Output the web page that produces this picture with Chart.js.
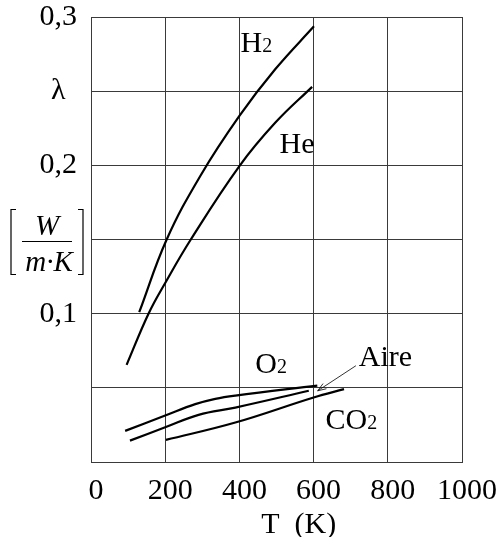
<!DOCTYPE html>
<html>
<head>
<meta charset="utf-8">
<script src="https://cdn.jsdelivr.net/npm/chart.js@4"></script>
<style>
  html, body { margin: 0; padding: 0; background: #fff; }
</style>
</head>
<body>
<canvas id="lambdaChart" width="503" height="537"></canvas>
<script>
  // thermal conductivity of gases
  var h2T = [130, 204, 295, 400, 497, 601];
  var h2L = [0.101, 0.150, 0.193, 0.2333, 0.2649, 0.2937];

  var heT = [96, 155, 200, 269, 400, 497, 596];
  var heL = [0.0655, 0.100, 0.1207, 0.150, 0.1995, 0.2288, 0.2529];

  var o2T = [92, 200, 281, 335, 389, 610];
  var o2L = [0.021, 0.0313, 0.039, 0.0426, 0.0448, 0.0515];

  var aireT = [105, 200, 290, 389, 587];
  var aireL = [0.0144, 0.0234, 0.0318, 0.0367, 0.048];

  var co2T = [202, 389, 600, 682];
  var co2L = [0.0149, 0.0266, 0.0435, 0.0491];

  var yTickText = { 30: '0,3', 25: 'λ', 20: '0,2', 10: '0,1' };

  function pts(t, l) {
    return t.map(function (v, i) { return { x: v, y: l[i] }; });
  }

  function curve(t, l) {
    return {
      data: pts(t, l),
      borderColor: '#000',
      borderWidth: 2.2,
      pointRadius: 0,
      fill: false,
      tension: 0.4
    };
  }

  var serif = "'Liberation Serif', 'Times New Roman', serif";
  var gridColor = '#3a3a3a';

  // curve names, unit bracket, axis title and arrow
  var notes = {
    id: 'notes',
    afterDraw: function (chart) {
      var c = chart.ctx;
      var xs = chart.scales.x, ys = chart.scales.y;
      c.save();
      c.fillStyle = '#000';
      c.strokeStyle = '#000';
      c.textBaseline = 'alphabetic';
      c.textAlign = 'left';

      function nm(main, sub, t, l) {
        var x = xs.getPixelForValue(t), y = ys.getPixelForValue(l);
        c.font = '30px ' + serif;
        c.fillText(main, x, y);
        if (sub) {
          var w = c.measureText(main).width;
          c.font = '20px ' + serif;
          c.fillText(sub, x + w, y);
        }
      }
      nm('H', '2', 403, 0.2764);
      nm('He', '', 508, 0.208);
      nm('O', '2', 443, 0.0601);
      nm('Aire', '', 722, 0.0649);
      nm('CO', '2', 632, 0.0223);

      // arrow from "Aire" to its curve
      var ax = xs.getPixelForValue(714), ay = ys.getPixelForValue(0.0649);
      var bx = xs.getPixelForValue(611), by = ys.getPixelForValue(0.048);
      c.lineWidth = 0.8;
      c.beginPath();
      c.moveTo(ax, ay);
      c.lineTo(bx, by);
      var ang = Math.atan2(by - ay, bx - ax);
      c.moveTo(bx - 9 * Math.cos(ang - 0.35), by - 9 * Math.sin(ang - 0.35));
      c.lineTo(bx, by);
      c.lineTo(bx - 9 * Math.cos(ang + 0.35), by - 9 * Math.sin(ang + 0.35));
      c.stroke();

      // unit [W / m·K] next to the 0,15 line
      var uy = ys.getPixelForValue(0.15);
      var ux = 47;
      c.textAlign = 'center';
      c.font = 'italic 29px ' + serif;
      c.fillText('W', ux, uy - 5);
      c.fillText('m·K', ux + 2, uy + 31);
      c.lineWidth = 1.2;
      c.beginPath();
      c.moveTo(22, uy + 2);
      c.lineTo(72, uy + 2);
      c.stroke();
      c.beginPath();
      c.moveTo(16, uy - 30); c.lineTo(11, uy - 30); c.lineTo(11, uy + 35); c.lineTo(16, uy + 35);
      c.moveTo(78, uy - 30); c.lineTo(83, uy - 30); c.lineTo(83, uy + 35); c.lineTo(78, uy + 35);
      c.stroke();

      // x axis title
      c.font = '30px ' + serif;
      c.fillText('T  (K)', xs.getPixelForValue(560), 533);
      c.restore();
    }
  };

  var ctx = document.getElementById('lambdaChart').getContext('2d');
  var lambdaChart = new Chart(ctx, {
    type: 'line',
    data: {
      datasets: [
        curve(h2T, h2L),
        curve(heT, heL),
        curve(o2T, o2L),
        curve(aireT, aireL),
        curve(co2T, co2L)
      ]
    },
    options: {
      responsive: false,
      animation: false,
      layout: { padding: { top: 17, right: 41, left: 0, bottom: 0 } },
      plugins: { legend: { display: false }, tooltip: { enabled: false } },
      scales: {
        x: {
          type: 'linear',
          min: 0,
          max: 1000,
          afterFit: function (s) {
            s.height = 75;
            s.paddingLeft = 0;
            s.paddingRight = 0;
          },
          ticks: {
            stepSize: 200,
            color: '#000',
            font: { family: serif, size: 30, lineHeight: 1 },
            padding: 14,
            labelOffset: 5,
            maxRotation: 0,
            callback: function (v) { return String(v); }
          },
          grid: { color: gridColor, lineWidth: 1, drawTicks: false },
          border: { color: gridColor, width: 1 }
        },
        y: {
          min: 0,
          max: 0.3,
          afterFit: function (s) {
            s.width = 91;
            s.paddingTop = 0;
            s.paddingBottom = 0;
          },
          ticks: {
            stepSize: 0.05,
            color: '#000',
            font: { family: serif, size: 30, lineHeight: 1 },
            padding: 14,
            crossAlign: 'center',
            callback: function (v) { return yTickText[Math.round(v * 100)] || ''; }
          },
          grid: { color: gridColor, lineWidth: 1, drawTicks: false },
          border: { color: gridColor, width: 1 }
        }
      }
    },
    plugins: [notes]
  });
</script>
</body>
</html>
